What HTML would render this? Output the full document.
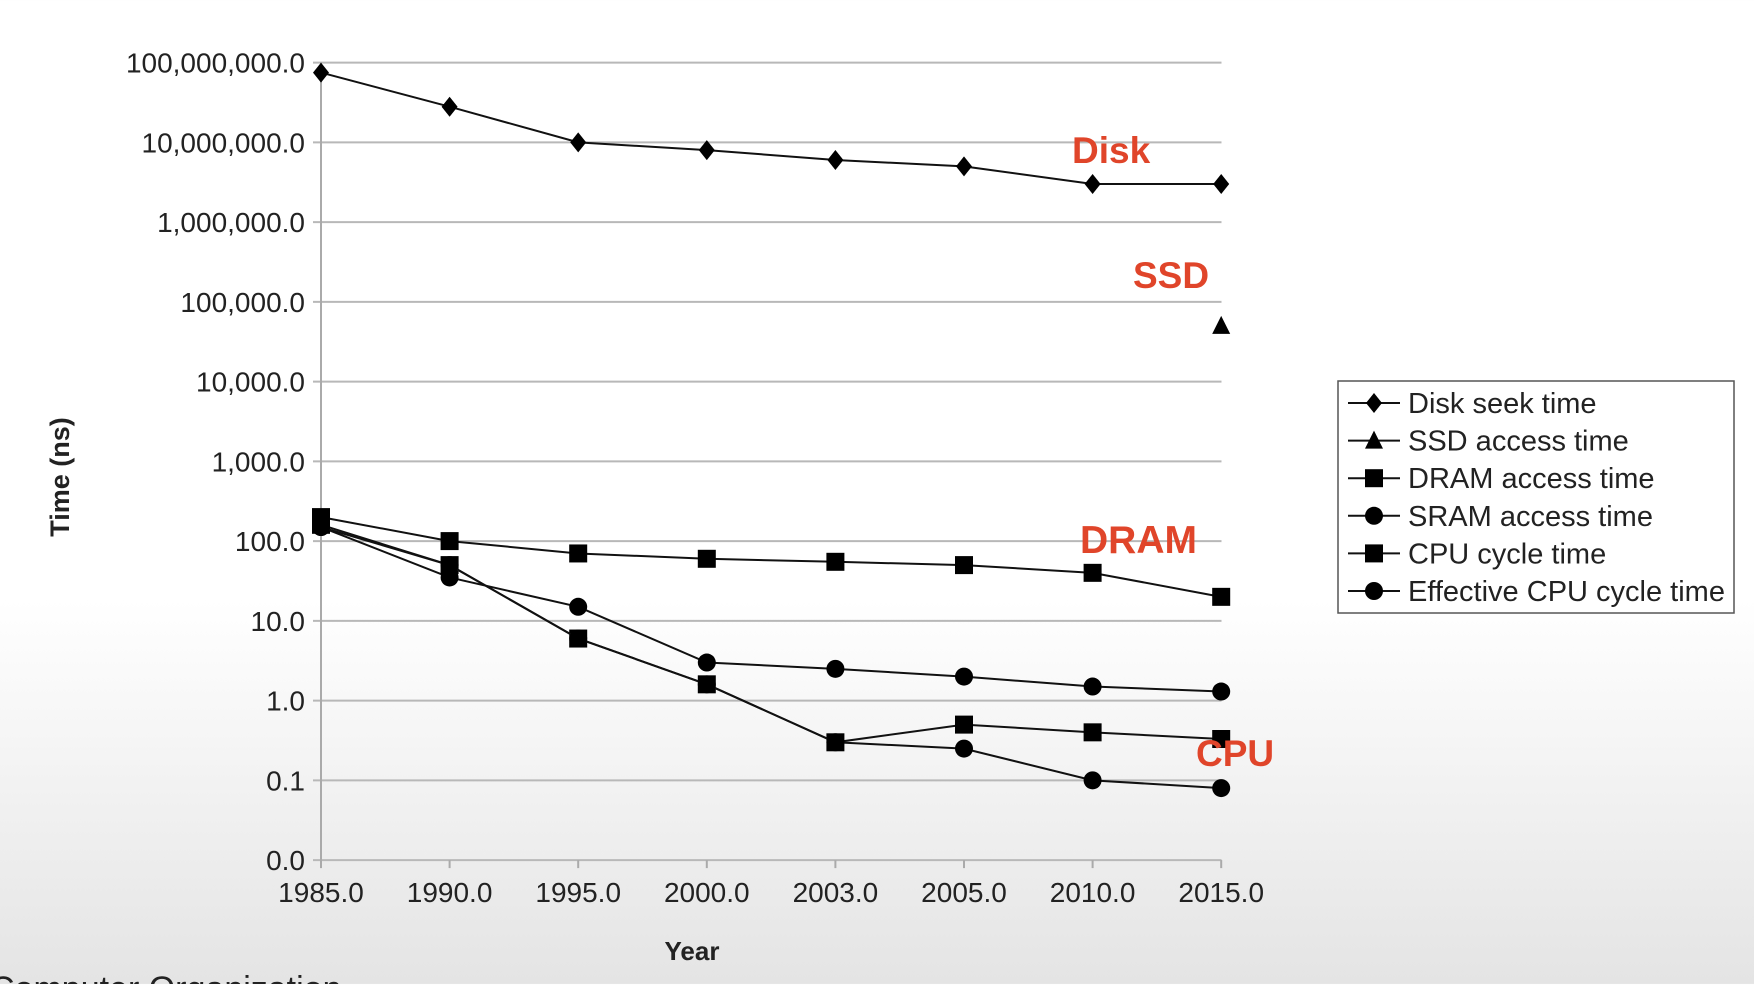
<!DOCTYPE html>
<html><head><meta charset="utf-8"><style>
html,body{margin:0;padding:0;}
body{width:1754px;height:984px;overflow:hidden;background:linear-gradient(#fff 0,#fff 600px,#e4e4e4 984px);font-family:"Liberation Sans",sans-serif;}
svg text{font-family:"Liberation Sans",sans-serif;}
</style></head><body>
<svg id="chart" width="1754" height="984" xmlns="http://www.w3.org/2000/svg">
<g id="grid"></g>
<g id="axes"></g>
<g id="series"></g>
<text x="0" y="0" transform="translate(69,477) rotate(-90)" text-anchor="middle" font-size="27" font-weight="bold" fill="#222">Time (ns)</text>
<text x="692" y="960" text-anchor="middle" font-size="26" font-weight="bold" fill="#222">Year</text>
<text x="1072" y="163" font-size="37" font-weight="bold" fill="#e0452a">Disk</text>
<text x="1133" y="288" font-size="37" font-weight="bold" fill="#e0452a">SSD</text>
<text x="1080" y="553" font-size="39" font-weight="bold" fill="#e0452a">DRAM</text>
<text x="1196" y="766" font-size="37" font-weight="bold" fill="#e0452a">CPU</text>
<g id="legend">
<rect x="1338" y="381" width="396" height="232" fill="#fff" stroke="#555" stroke-width="1.5"/>
</g>
<text x="-10" y="1000" font-size="34" fill="#222">Computer Organization</text>
</svg>
<script>
const categories = ["1985.0","1990.0","1995.0","2000.0","2003.0","2005.0","2010.0","2015.0"];
const yTicks = [0.01,0.1,1,10,100,1000,10000,100000,1000000,10000000,100000000];
const yTickLabels = ["0.0","0.1","1.0","10.0","100.0","1,000.0","10,000.0","100,000.0","1,000,000.0","10,000,000.0","100,000,000.0"];
const diskSeek = [75000000,28000000,10000000,8000000,6000000,5000000,3000000,3000000];
const ssdAccess = [null,null,null,null,null,null,null,50000];
const dramAccess = [200,100,70,60,55,50,40,20];
const sramAccess = [150,35,15,3,2.5,2,1.5,1.3];
const cpuCycle = [160,50,6,1.6,0.3,0.5,0.4,0.33];
const effCpuCycle = [150,50,6,1.6,0.3,0.25,0.1,0.08];
const seriesNames = ["Disk seek time","SSD access time","DRAM access time","SRAM access time","CPU cycle time","Effective CPU cycle time"];

const NS="http://www.w3.org/2000/svg";
const X0=321, XSTEP=128.6, YTOP=62.6, DEC=79.75, XEND=1221.5;
function xs(i){return X0+i*XSTEP;}
function ys(v){return YTOP+(8-Math.log10(v))*DEC;}
function mk(tag,attrs,parent){const e=document.createElementNS(NS,tag);for(const k in attrs)e.setAttribute(k,attrs[k]);parent.appendChild(e);return e;}
const grid=document.getElementById('grid'), axes=document.getElementById('axes'), ser=document.getElementById('series'), leg=document.getElementById('legend');
const yBot=ys(0.01);
yTicks.forEach((t,i)=>{
  const y=ys(t);
  const l=mk('line',{x1:X0-8,x2:XEND,y1:y,y2:y,stroke:'#b8b8b8','stroke-width':2},grid);
  
  
  const tx=mk('text',{x:X0-16,y:y+10,'text-anchor':'end','font-size':28,fill:'#222'},axes);
  tx.textContent=yTickLabels[i];
  
  
});
mk('line',{x1:X0,x2:X0,y1:YTOP,y2:yBot,stroke:'#aaa','stroke-width':2},axes);
categories.forEach((c,i)=>{
  const x=xs(i);
  mk('line',{x1:x,x2:x,y1:yBot,y2:yBot+8,stroke:'#aaa','stroke-width':2},axes);
  const tx=mk('text',{x:x,y:902,'text-anchor':'middle','font-size':28,fill:'#222'},axes);
  tx.textContent=c;
  
  
});
function marker(type,x,y,parent){
  let m;
  if(type==='diamond') m=mk('polygon',{points:`${x},${y-10} ${x+8},${y} ${x},${y+10} ${x-8},${y}`,fill:'#000'},parent);
  else if(type==='triangle') m=mk('polygon',{points:`${x},${y-10} ${x+9},${y+8} ${x-9},${y+8}`,fill:'#000'},parent);
  else if(type==='square') m=mk('rect',{x:x-9,y:y-9,width:18,height:18,fill:'#000'},parent);
  else m=mk('circle',{cx:x,cy:y,r:9,fill:'#000'},parent);
  return m;
}
const allSeries=[[diskSeek,'diamond'],[ssdAccess,'triangle'],[dramAccess,'square'],[sramAccess,'circle'],[cpuCycle,'square'],[effCpuCycle,'circle']];
allSeries.forEach(([data,type],si)=>{
  const g=mk('g',{},ser);
  
  
  const pts=[];data.forEach((v,i)=>{if(v!=null)pts.push([xs(i),ys(v)]);});
  if(pts.length>1) mk('polyline',{points:pts.map(p=>p.join(',')).join(' '),fill:'none',stroke:'#111','stroke-width':2},g);
  pts.forEach(p=>{
    const m=marker(type,p[0],p[1],g);
    
    
  });
  const ly=403+si*37.6;
  const lg=mk('g',{},leg);
  
  
  mk('line',{x1:1348,x2:1400,y1:ly,y2:ly,stroke:'#111','stroke-width':2},lg);
  marker(type,1374,ly,lg);
  const t=mk('text',{x:1408,y:ly+10,'font-size':29,fill:'#222'},lg);
  t.textContent=seriesNames[si];
});
</script>
</body></html>
